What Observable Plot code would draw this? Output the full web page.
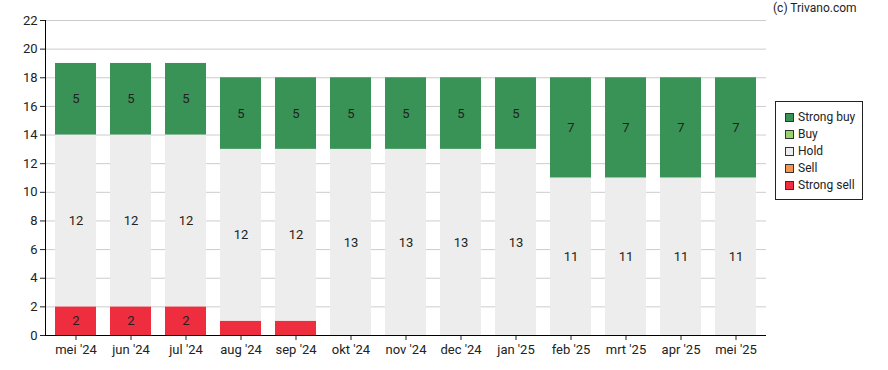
<!DOCTYPE html>
<html>
<head>
<meta charset="utf-8">
<script src="https://cdn.jsdelivr.net/npm/d3@7"></script>
<script src="https://cdn.jsdelivr.net/npm/@observablehq/plot@0.6"></script>
<style>
  html, body { margin: 0; padding: 0; background: #fff; }
  #wrap { position: relative; width: 888px; height: 370px; font-family: Roboto, "Noto Sans", sans-serif; }
  #credit { position: absolute; left: 773px; top: 1px; font-size: 12px; color: #222; }
  #legend { position: absolute; left: 775px; top: 101px; width: 88px; height: 99px; border: 1px solid #222; box-sizing: border-box; font-size: 12px; color: #222; }
  .item { position: absolute; left: 9px; height: 14px; line-height: 14px; white-space: nowrap; }
  .sw { display: inline-block; width: 7px; height: 7px; border: 1px solid #333; vertical-align: -1px; margin-right: 4px; }
</style>
</head>
<body>
<div id="wrap">
  <div id="chart"></div>
  <div id="credit">(c) Trivano.com</div>
  <div id="legend"></div>
</div>
<script>
const months = ["mei '24","jun '24","jul '24","aug '24","sep '24","okt '24","nov '24","dec '24","jan '25","feb '25","mrt '25","apr '25","mei '25"];
const strongSell = [2,2,2,1,1,0,0,0,0,0,0,0,0];
const sell       = [0,0,0,0,0,0,0,0,0,0,0,0,0];
const hold       = [12,12,12,12,12,13,13,13,13,11,11,11,11];
const buy        = [0,0,0,0,0,0,0,0,0,0,0,0,0];
const strongBuy  = [5,5,5,5,5,5,5,5,5,7,7,7,7];
const categories = ["Strong sell","Sell","Hold","Buy","Strong buy"];
const colors     = ["#ee2e3f","#f79450","#ededed","#97d36d","#3a9356"];
const yTicks = d3.range(0, 23, 2);

const series = [strongSell, sell, hold, buy, strongBuy];
const data = [];
months.forEach((m, i) => {
  categories.forEach((c, k) => {
    data.push({month: m, cat: c, order: k, value: series[k][i]});
  });
});

const chart = Plot.plot({
  width: 888,
  height: 370,
  marginLeft: 45,
  marginRight: 122,
  marginTop: 20,
  marginBottom: 35,
  style: {fontFamily: "Roboto, 'Noto Sans', sans-serif", fontSize: "13px", color: "#222", background: "#fff"},
  x: {domain: months, paddingInner: 0.26, paddingOuter: 0.13, label: null, tickSize: 5, tickPadding: 4},
  y: {domain: [0, 22], ticks: yTicks, label: null, tickSize: 5, tickPadding: 3},
  color: {domain: categories, range: colors},
  marks: [
    Plot.gridY(yTicks, {stroke: "#cccccc", strokeOpacity: 1}),
    Plot.barY(data, Plot.stackY({x: "month", y: "value", fill: "cat", order: "order"})),
    Plot.text(data, Plot.stackY({x: "month", y: "value", order: "order", text: d => d.value >= 2 ? String(d.value) : "", fill: "#222", fontSize: 13})),
    Plot.axisY(yTicks, {tickSize: 5, tickPadding: 3, fontSize: 13}),
    Plot.axisX({tickSize: 5, tickPadding: 4, fontSize: 13}),
    Plot.frame({anchor: "left", stroke: "#000"}),
    Plot.ruleY([0], {stroke: "#000"})
  ]
});
document.getElementById("chart").appendChild(chart);

const legend = document.getElementById("legend");
const legendOrder = ["Strong buy","Buy","Hold","Sell","Strong sell"];
legendOrder.forEach((c, i) => {
  const div = document.createElement("div");
  div.className = "item";
  div.style.top = (8 + i * 17) + "px";
  const sw = document.createElement("span");
  sw.className = "sw";
  sw.style.background = colors[categories.indexOf(c)];
  div.appendChild(sw);
  div.appendChild(document.createTextNode(c));
  legend.appendChild(div);
});
</script>
</body>
</html>
